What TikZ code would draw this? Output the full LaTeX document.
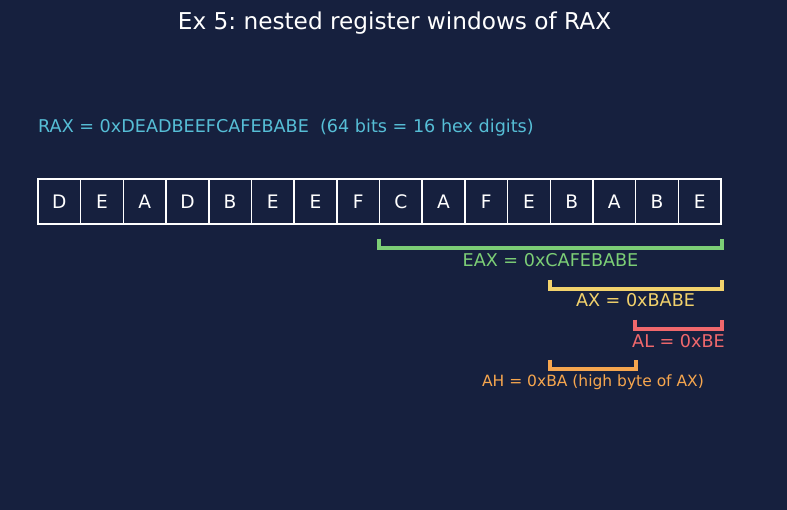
\documentclass[tikz,border=0pt]{standalone}
\usepackage{fontspec}
\setmainfont{DejaVu Sans}
\frenchspacing
\definecolor{bgc}{RGB}{22,32,62}
\definecolor{cyanc}{RGB}{86,190,214}
\definecolor{greenc}{RGB}{124,206,118}
\definecolor{yellowc}{RGB}{242,210,108}
\definecolor{redc}{RGB}{240,104,108}
\definecolor{orangec}{RGB}{246,166,78}
\tikzset{
  cell/.style={draw=white, line width=1.5pt, fill=bgc, text=white, minimum width=42.69pt, minimum height=45pt, inner sep=0pt, font=\fontsize{18.6}{22}\selectfont},
  brk/.style={line width=4pt, line join=miter},
  lbl/.style={inner sep=0pt, font=\fontsize{17.6}{21}\selectfont},
}
\begin{document}
\begin{tikzpicture}[x=1pt,y=-1pt]
\fill[bgc] (0,0) rectangle (787,510);
\useasboundingbox (0,0) rectangle (787,510);
\node[text=white, inner sep=0pt, font=\fontsize{23.2}{27}\selectfont] (title) at (394.5,23) {Ex 5: nested register windows of RAX};
\node[text=cyanc, anchor=west, inner sep=0pt, font=\fontsize{17.6}{21}\selectfont] (rax) at (38,128) {RAX = 0xDEADBEEFCAFEBABE\ \ (64 bits = 16 hex digits)};
\foreach \t [count=\i] in {D,E,A,D,B,E,E,F,C,A,F,E,B,A,B,E} {
  \node[cell] (c\i) at ({38+42.69*(\i-0.5)},201.5) {\t};
}
% EAX
\draw[brk, greenc] ([yshift=-14pt]c9.south west) -- ([yshift=-23pt]c9.south west) -- ([yshift=-23pt]c16.south east) -- ([yshift=-14pt]c16.south east);
\node[lbl, text=greenc] (eax) at (550.5,260) {EAX = 0xCAFEBABE};
% AX
\draw[brk, yellowc] ([yshift=-55pt]c13.south west) -- ([yshift=-64pt]c13.south west) -- ([yshift=-64pt]c16.south east) -- ([yshift=-55pt]c16.south east);
\node[lbl, text=yellowc] (ax) at (635.5,300) {AX = 0xBABE};
% AL
\draw[brk, redc] ([yshift=-95pt]c15.south west) -- ([yshift=-104pt]c15.south west) -- ([yshift=-104pt]c16.south east) -- ([yshift=-95pt]c16.south east);
\node[lbl, text=redc] (al) at (678.5,341) {AL = 0xBE};
% AH
\draw[brk, orangec] ([yshift=-135pt]c13.south west) -- ([yshift=-144pt]c13.south west) -- ([yshift=-144pt]c14.south east) -- ([yshift=-135pt]c14.south east);
\node[lbl, text=orangec, font=\fontsize{15.5}{18}\selectfont] (ah) at (593,382) {AH = 0xBA (high byte of AX)};
\end{tikzpicture}
\end{document}
